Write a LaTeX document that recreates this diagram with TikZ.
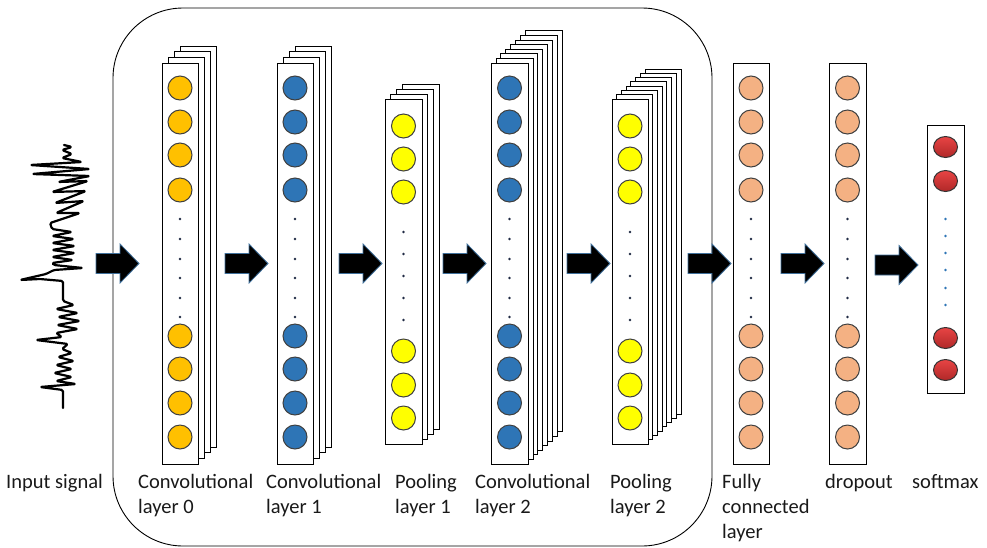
\documentclass[tikz,border=0pt]{standalone}
\usepackage{fontspec}
\setmainfont{Carlito}
\usetikzlibrary{shapes.geometric}
\definecolor{corange}{HTML}{FFC000}
\definecolor{cblue}{HTML}{2E75B6}
\definecolor{cyellow}{HTML}{FFFF00}
\definecolor{cpeach}{HTML}{F4B183}
\definecolor{credtop}{HTML}{E84444}
\definecolor{credbot}{HTML}{B02828}
\definecolor{arrowline}{HTML}{41719C}
\definecolor{dotc}{HTML}{1F2A44}
\definecolor{dotblue}{HTML}{2E75B6}
\newcommand{\layerstack}[8]{%
  \foreach \i in {#6,...,1}{%
    \draw[sheet] ({#2+\i*#7},{#3-\i*#8}) rectangle ++(#4,#5);}
  \node[sheet,minimum width=#4pt,minimum height=#5pt,inner sep=0pt,anchor=north west] (#1) at (#2,#3) {};
}
\begin{document}
\begin{tikzpicture}[x=1pt,y=-1pt,
  sheet/.style={draw=black,line width=0.8pt,fill=white},
  neuron/.style={circle,draw=black!75,line width=1pt,minimum size=24pt,inner sep=0pt},
  nor/.style={neuron,fill=corange},
  nbl/.style={neuron,fill=cblue},
  nye/.style={neuron,fill=cyellow},
  npe/.style={neuron,fill=cpeach},
  nre/.style={ellipse,draw=black!80,line width=1pt,minimum width=24pt,minimum height=21pt,inner sep=0pt,top color=credtop,bottom color=credbot},
  dotn/.style={circle,fill=dotc,inner sep=0pt,minimum size=2.6pt},
  dotb/.style={circle,fill=dotblue,inner sep=0pt,minimum size=2.6pt},
  lab/.style={anchor=base west,inner sep=0pt,font=\fontsize{20.5}{25}\selectfont,text=black!90},
  blockarrow/.pic={\draw[fill=black,draw=arrowline,line width=0.8pt,line join=miter]
     (0,-10) -- (24,-10) -- (24,-19.5) -- (43,0) -- (24,19.5) -- (24,10) -- (0,10) -- cycle;},
  wave/.style={draw=black,line width=2.2pt,line join=round,line cap=round,rounded corners=1.5pt}
]
\useasboundingbox (0,0) rectangle (987,547);

% enclosing rounded box
\draw[line width=0.9pt,rounded corners=70pt] (113,8) rectangle (712,546);

% input signal
\draw[wave] (63,408) -- (63,390) -- (40,387) -- (76,384) -- (56,381) -- (72,377) -- (54,373)
 -- (72,369) -- (56,365) -- (74,361) -- (58,357) -- (72,353) -- (62,349) -- (68,344) -- (36,340)
 -- (62,337) -- (56,333) -- (78,329) -- (57,325) -- (80,321) -- (58,317) -- (78,313) -- (56,309)
 -- (74,305) -- (63,301) -- (63,281) -- (40,279) -- (20,280) -- (46,274) -- (54,270) -- (83,268)
 -- (54,265) -- (52,263) -- (73,260) -- (52,257) -- (75,253) -- (52,250) -- (75,246) -- (52,243)
 -- (74,239) -- (52,236) -- (72,232) -- (52,229) -- (50,223) -- (80,213) -- (56,213) -- (84,201)
 -- (55,203) -- (86,191) -- (52,192) -- (88,181) -- (58,182) -- (90,176) -- (32,174) -- (90,169)
 -- (30,165) -- (82,162) -- (62,158) -- (72,154) -- (62,150) -- (72,147) -- (64,145);

% layer stacks
\layerstack{conv0}{162}{63}{36}{401}{3}{6}{5.7}
\layerstack{conv1}{277}{63}{36}{401}{3}{6}{5.7}
\layerstack{pool1}{385}{99}{37}{345}{3}{5.7}{5}
\layerstack{conv2}{491}{63}{37}{401}{7}{4.9}{4.6}
\layerstack{pool2}{612}{99}{36}{345}{7}{4.7}{4.3}
\node[sheet,minimum width=36pt,minimum height=401pt,inner sep=0pt,anchor=north west] (fc) at (733,63) {};
\node[sheet,minimum width=37pt,minimum height=401pt,inner sep=0pt,anchor=north west] (drop) at (829,63) {};
\node[sheet,minimum width=37pt,minimum height=268pt,inner sep=0pt,anchor=north west] (soft) at (927,125) {};

% neurons
\foreach \y [count=\k] in {88,122,155,190,336,369,403,437}{
  \node[nor] (c0n\k) at (180,\y) {};
  \node[nbl] (c1n\k) at (295,\y) {};
  \node[nbl] (c2n\k) at (509.5,\y) {};
  \node[npe] (fcn\k) at (751,\y) {};
  \node[npe] (drn\k) at (847.5,\y) {};
}
\foreach \y [count=\k] in {126,159,192,351,385,418}{
  \node[nye] (p1n\k) at (403.5,\y) {};
  \node[nye] (p2n\k) at (630,\y) {};
}
\foreach \y [count=\k] in {147,181,338,370}{
  \node[nre] (smn\k) at (945.5,\y) {};
}
% dots
\foreach \y [count=\k] in {219,239,259,278,298,317}{
  \node[dotn] (c0d\k) at (180,\y) {};
  \node[dotn] (c1d\k) at (295,\y) {};
  \node[dotn] (c2d\k) at (509.5,\y) {};
  \node[dotn] (fcd\k) at (751,\y) {};
  \node[dotn] (drd\k) at (847.5,\y) {};
}
\foreach \y [count=\k] in {232,254,276,298,320}{
  \node[dotn] (p1d\k) at (403.5,\y) {};
  \node[dotn] (p2d\k) at (630,\y) {};
}
\foreach \y [count=\k] in {219,236,253,270,288,305}{
  \node[dotb] (smd\k) at (945.5,\y) {};
}

% block arrows
\pic at (96,263.5) {blockarrow};
\pic at (225,263.5) {blockarrow};
\pic at (339,263.5) {blockarrow};
\pic at (443,263.5) {blockarrow};
\pic at (567,263.5) {blockarrow};
\pic at (688,263.5) {blockarrow};
\pic at (781,263.5) {blockarrow};
\pic at (875,265) {blockarrow};

% labels
\node[lab] (lin) at (6,488) {Input signal};
\node[lab] (lc0) at (138,488) {\begin{tabular}[t]{@{}l@{}}Convolutional\\layer 0\end{tabular}};
\node[lab] (lc1) at (266,488) {\begin{tabular}[t]{@{}l@{}}Convolutional\\layer 1\end{tabular}};
\node[lab] (lp1) at (395,488) {\begin{tabular}[t]{@{}l@{}}Pooling\\layer 1\end{tabular}};
\node[lab] (lc2) at (475,488) {\begin{tabular}[t]{@{}l@{}}Convolutional\\layer 2\end{tabular}};
\node[lab] (lp2) at (610,488) {\begin{tabular}[t]{@{}l@{}}Pooling\\layer 2\end{tabular}};
\node[lab] (lfc) at (722,488) {\begin{tabular}[t]{@{}l@{}}Fully\\connected\\layer\end{tabular}};
\node[lab] (ldr) at (825,488) {dropout};
\node[lab] (lsm) at (912,488) {softmax};
\end{tikzpicture}
\end{document}
